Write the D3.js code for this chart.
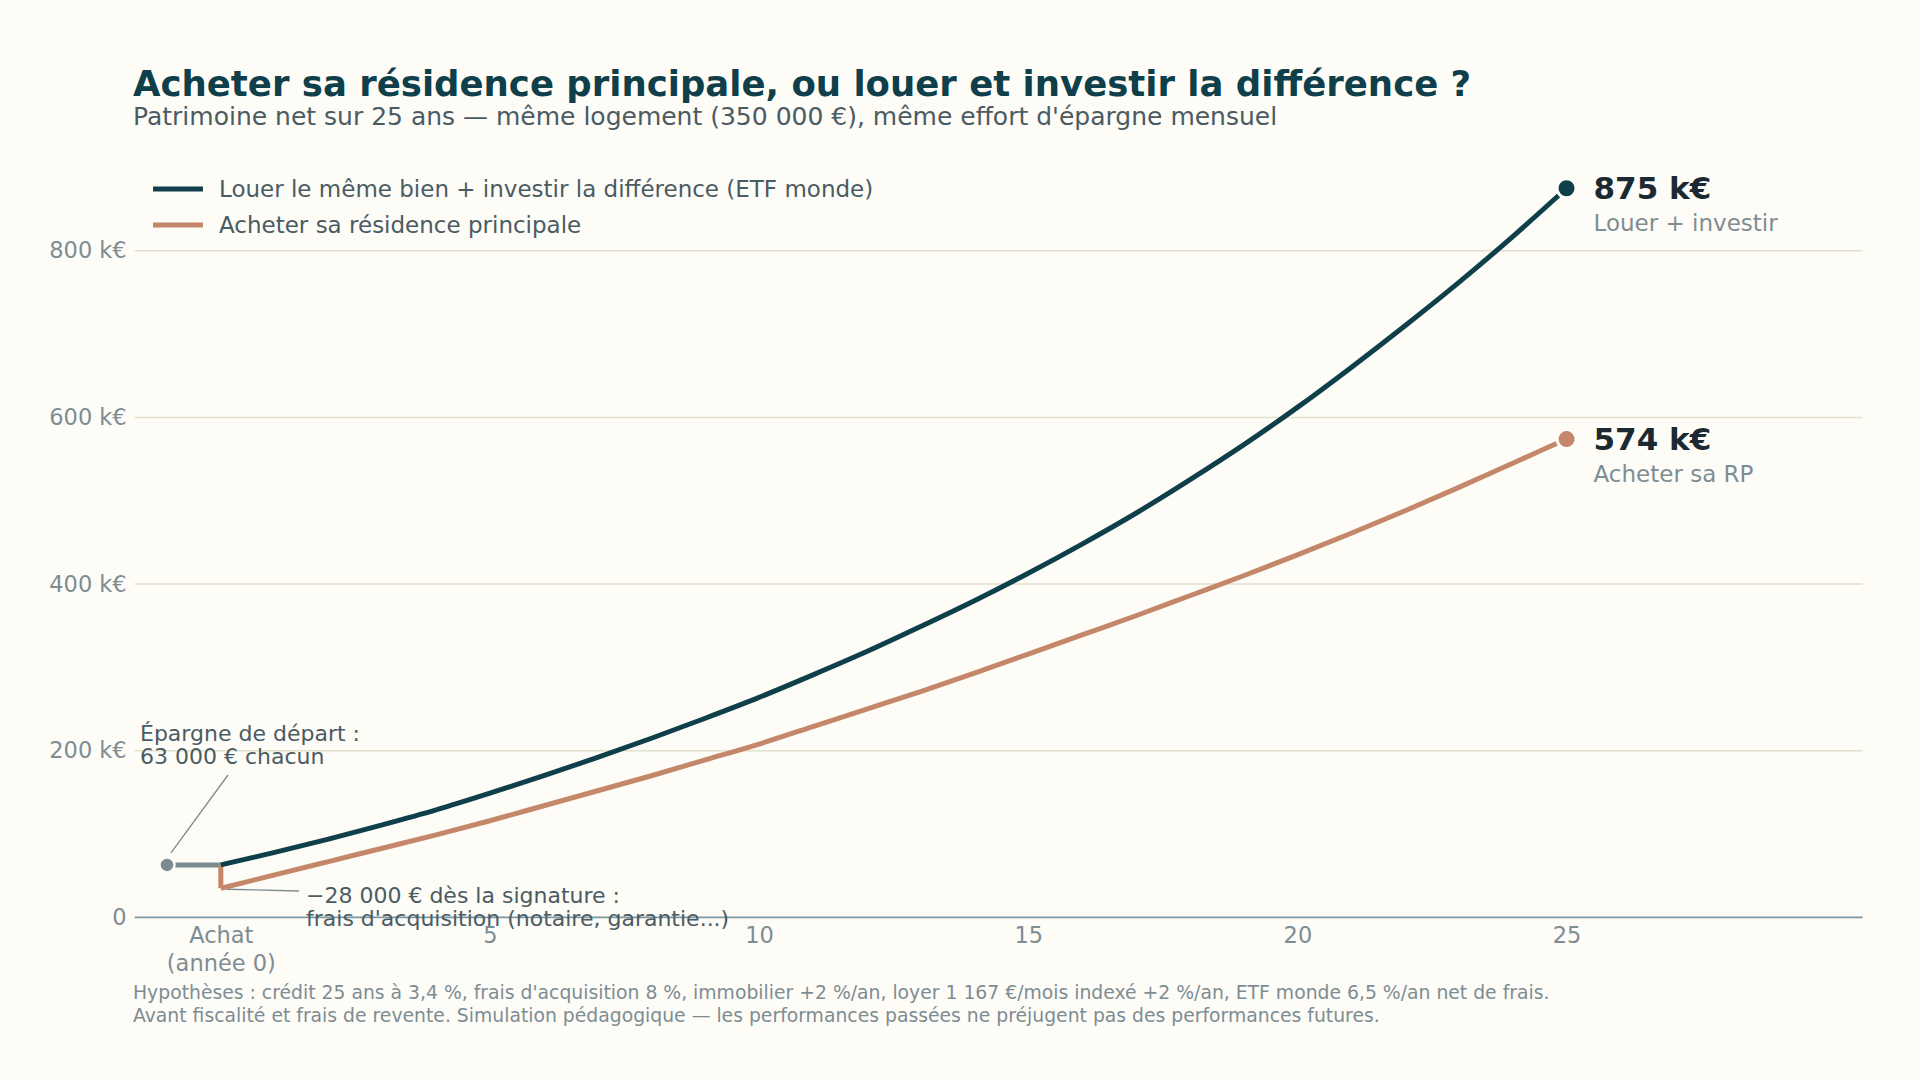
<!DOCTYPE html>
<html>
<head>
<meta charset="utf-8">
<script src="https://cdn.jsdelivr.net/npm/d3@7"></script>
<style>
  html, body { margin: 0; padding: 0; background: #fdfcf6; }
  svg { display: block; }
  text { font-family: "DejaVu Sans", sans-serif; }
</style>
</head>
<body>
<svg id="chart" width="1920" height="1080"></svg>
<script>
// ---------- data (k€) ----------
const years = d3.range(0, 26);
const startSavings = 63;   // épargne de départ
const preYear = -1;        // point "avant achat"
const rentInvest = [63, 78, 94, 111, 129, 149, 170, 192, 215, 239, 264, 291, 319, 349, 380, 413, 448, 485, 525, 567, 612, 660, 710, 762, 817, 875];
const buyHome   = [35, 51, 67, 83, 99, 116, 134, 152, 170, 189, 208, 229, 250, 271, 293, 316, 339, 362, 386, 410, 435, 461, 488, 516, 545, 574];
const xTicks = [0, 5, 10, 15, 20, 25];
const yTicks = [0, 200, 400, 600, 800];
const seriesNames = ["Louer le même bien + investir la différence (ETF monde)", "Acheter sa résidence principale"];
const endLabels = ["Louer + investir", "Acheter sa RP"];

// ---------- styles ----------
const C = {
  bg: "#fdfcf6", rent: "#0e3f4a", buy: "#c4876a", grey: "#7b8c91",
  grid: "#e2e2cb", axis: "#7e97a4", title: "#0e3f4a", sub: "#4b5b63",
  tick: "#7e8d94", value: "#1b2a32"
};

const svg = d3.select("#chart");
svg.append("rect").attr("width", 1920).attr("height", 1080).attr("fill", C.bg);

const x = d3.scaleLinear().domain([-1.6, 30.5]).range([134.7, 1862.6]);
const y = d3.scaleLinear().domain([0, 900]).range([917.4, 167.4]);

// title
svg.append("text").attr("x", 133).attr("y", 96)
  .attr("font-size", 35.5).attr("font-weight", "bold").attr("fill", C.title)
  .text("Acheter sa résidence principale, ou louer et investir la différence ?");
svg.append("text").attr("x", 133).attr("y", 125)
  .attr("font-size", 25).attr("fill", C.sub)
  .text("Patrimoine net sur 25 ans — même logement (350 000 €), même effort d'épargne mensuel");

// grid
const g = svg.append("g");
g.selectAll("line.grid").data(yTicks.filter(d => d > 0)).join("line")
  .attr("x1", x.range()[0]).attr("x2", x.range()[1])
  .attr("y1", d => y(d)).attr("y2", d => y(d))
  .attr("stroke", C.grid).attr("stroke-width", 1.5);
g.append("line").attr("x1", x.range()[0]).attr("x2", x.range()[1])
  .attr("y1", y(0)).attr("y2", y(0)).attr("stroke", C.axis).attr("stroke-width", 1.6);

// y axis labels
const yAxis = d3.axisLeft(y).tickValues(yTicks).tickSize(0).tickPadding(0)
  .tickFormat(d => d === 0 ? "0" : d + " k€");
const ya = svg.append("g").attr("transform", `translate(${x.range()[0] - 8},0)`).call(yAxis);
ya.select(".domain").remove();
ya.selectAll("text").attr("font-size", 22.5).attr("fill", C.tick).attr("font-family", "DejaVu Sans");

// x axis labels
const xAxis = d3.axisBottom(x).tickValues(xTicks).tickSize(0).tickPadding(0)
  .tickFormat(d => d === 0 ? "" : d);
const xa = svg.append("g").attr("transform", `translate(0,${y(0)})`).call(xAxis);
xa.select(".domain").remove();
xa.selectAll("text").attr("font-size", 22.5).attr("fill", C.tick).attr("font-family", "DejaVu Sans")
  .attr("y", 26).attr("dy", 0);
xa.selectAll(".tick").filter(d => d === 0).select("text")
  .text(null).call(t => {
    t.append("tspan").attr("x", 0).attr("y", 26).text("Achat");
    t.append("tspan").attr("x", 0).attr("y", 54).text("(année 0)");
  });

// annotation leaders
svg.append("line")
  .attr("x1", x(preYear) + 4).attr("y1", y(startSavings) - 12)
  .attr("x2", 228).attr("y2", 775)
  .attr("stroke", C.grey).attr("stroke-width", 1.3);
svg.append("line")
  .attr("x1", x(0) + 6).attr("y1", y(buyHome[0]) + 1)
  .attr("x2", 299).attr("y2", 891)
  .attr("stroke", C.grey).attr("stroke-width", 1.3);

// pre-purchase segment
svg.append("line")
  .attr("x1", x(preYear)).attr("x2", x(0))
  .attr("y1", y(startSavings)).attr("y2", y(startSavings))
  .attr("stroke", C.grey).attr("stroke-width", 5);
svg.append("circle").attr("cx", x(preYear)).attr("cy", y(startSavings)).attr("r", 7.5)
  .attr("fill", C.grey).attr("stroke", C.bg).attr("stroke-width", 2.5);

// lines
const line = d3.line().x(d => x(d[0])).y(d => y(d[1])).curve(d3.curveMonotoneX);
const rentPts = years.map((yr, i) => [yr, rentInvest[i]]);
const buyPts = [[0, startSavings]].concat(years.map((yr, i) => [yr, buyHome[i]]));
const lineLin = d3.line().x(d => x(d[0])).y(d => y(d[1]));

svg.append("path").datum(buyPts.slice(0, 2)).attr("d", lineLin)
  .attr("fill", "none").attr("stroke", C.buy).attr("stroke-width", 5);
svg.append("path").datum(buyPts.slice(1)).attr("d", line)
  .attr("fill", "none").attr("stroke", C.buy).attr("stroke-width", 5).attr("stroke-linejoin", "round");
svg.append("path").datum(rentPts).attr("d", line)
  .attr("fill", "none").attr("stroke", C.rent).attr("stroke-width", 5).attr("stroke-linejoin", "round");

// end dots + labels
const ends = [
  { v: rentInvest[25], color: C.rent, label: endLabels[0] },
  { v: buyHome[25], color: C.buy, label: endLabels[1] }
];
ends.forEach(e => {
  svg.append("circle").attr("cx", x(25)).attr("cy", y(e.v)).attr("r", 9.5)
    .attr("fill", e.color).attr("stroke", C.bg).attr("stroke-width", 3);
  svg.append("text").attr("x", x(25) + 27).attr("y", y(e.v) + 11)
    .attr("font-size", 31).attr("font-weight", "bold").attr("fill", C.value)
    .text(`${e.v} k€`);
  svg.append("text").attr("x", x(25) + 27).attr("y", y(e.v) + 43)
    .attr("font-size", 23).attr("fill", C.tick).text(e.label);
});

// annotations
const a1 = svg.append("text").attr("x", 140).attr("font-size", 22).attr("fill", C.sub);
a1.append("tspan").attr("x", 140).attr("y", 741).text("Épargne de départ :");
a1.append("tspan").attr("x", 140).attr("y", 764).text("63 000 € chacun");
const a2 = svg.append("text").attr("font-size", 22).attr("fill", C.sub);
a2.append("tspan").attr("x", 306).attr("y", 903).text("−28 000 € dès la signature :");
a2.append("tspan").attr("x", 306).attr("y", 926).text("frais d'acquisition (notaire, garantie...)");

// legend
const leg = svg.append("g");
[C.rent, C.buy].forEach((c, i) => {
  const ly = 189 + i * 36;
  leg.append("line").attr("x1", 153).attr("x2", 203).attr("y1", ly).attr("y2", ly)
    .attr("stroke", c).attr("stroke-width", 5);
  leg.append("text").attr("x", 219).attr("y", ly + 8).attr("font-size", 23).attr("fill", C.sub)
    .text(seriesNames[i]);
});

// footer
const f = svg.append("text").attr("font-size", 18.8).attr("fill", C.tick);
f.append("tspan").attr("x", 133).attr("y", 999)
  .text("Hypothèses : crédit 25 ans à 3,4 %, frais d'acquisition 8 %, immobilier +2 %/an, loyer 1 167 €/mois indexé +2 %/an, ETF monde 6,5 %/an net de frais.");
f.append("tspan").attr("x", 133).attr("y", 1022)
  .text("Avant fiscalité et frais de revente. Simulation pédagogique — les performances passées ne préjugent pas des performances futures.");
</script>
</body>
</html>
